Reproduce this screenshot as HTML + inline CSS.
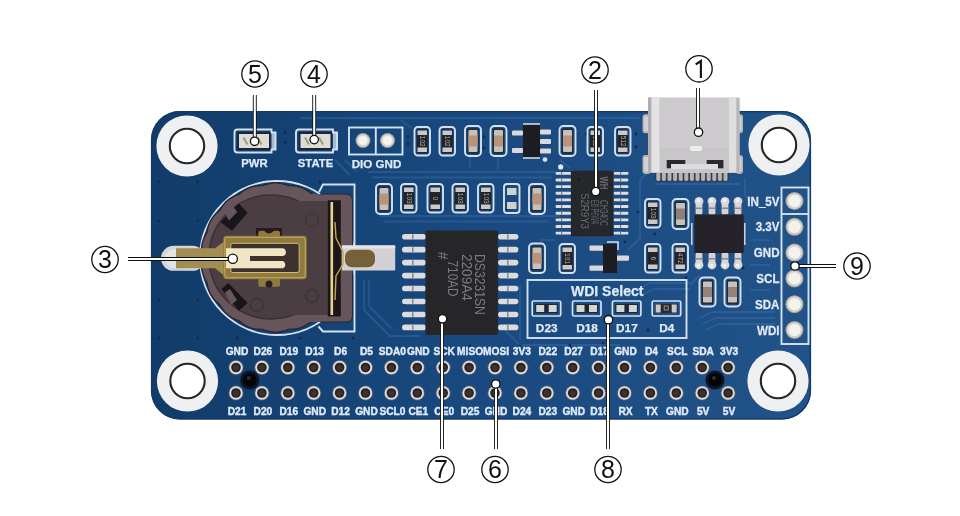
<!DOCTYPE html>
<html><head><meta charset="utf-8"><style>
html,body{margin:0;padding:0;background:#fff;width:960px;height:516px;overflow:hidden}
svg{display:block;font-family:"Liberation Sans",sans-serif;will-change:transform}
</style></head><body>
<svg width="960" height="516" viewBox="0 0 960 516">
<defs><linearGradient id="bg" x1="151" y1="0" x2="811" y2="0" gradientUnits="userSpaceOnUse"><stop offset="0" stop-color="#113c69"/><stop offset="0.45" stop-color="#18487e"/><stop offset="1" stop-color="#215288"/></linearGradient></defs>
<rect x="151" y="111" width="660" height="308.5" rx="29" fill="url(#bg)"/>
<rect x="151.6" y="111.6" width="658.8" height="307.3" rx="28.4" fill="none" stroke="#123a68" stroke-width="1.4"/>
<path d="M300 118 H640" fill="none" stroke="#5d95d8" stroke-opacity="0.22" stroke-width="1.8" stroke-linejoin="round"/>
<path d="M368 172 H556" fill="none" stroke="#5d95d8" stroke-opacity="0.22" stroke-width="1.8" stroke-linejoin="round"/>
<path d="M372 177.5 H552" fill="none" stroke="#5d95d8" stroke-opacity="0.22" stroke-width="1.8" stroke-linejoin="round"/>
<path d="M335 160 L350 175" fill="none" stroke="#5d95d8" stroke-opacity="0.22" stroke-width="1.8" stroke-linejoin="round"/>
<path d="M345 160 L357 172" fill="none" stroke="#5d95d8" stroke-opacity="0.22" stroke-width="1.8" stroke-linejoin="round"/>
<path d="M380 216 H560" fill="none" stroke="#5d95d8" stroke-opacity="0.22" stroke-width="1.8" stroke-linejoin="round"/>
<path d="M384 221.5 H548" fill="none" stroke="#5d95d8" stroke-opacity="0.22" stroke-width="1.8" stroke-linejoin="round"/>
<path d="M364 280 V310 L390 336 H420" fill="none" stroke="#5d95d8" stroke-opacity="0.22" stroke-width="1.8" stroke-linejoin="round"/>
<path d="M369 280 V306 L392 329" fill="none" stroke="#5d95d8" stroke-opacity="0.22" stroke-width="1.8" stroke-linejoin="round"/>
<path d="M520 285 L520 340" fill="none" stroke="#5d95d8" stroke-opacity="0.22" stroke-width="1.8" stroke-linejoin="round"/>
<path d="M505 330 L520 345 H620" fill="none" stroke="#5d95d8" stroke-opacity="0.22" stroke-width="1.8" stroke-linejoin="round"/>
<path d="M628 250 L640 238 V180 L648 172" fill="none" stroke="#5d95d8" stroke-opacity="0.22" stroke-width="1.8" stroke-linejoin="round"/>
<path d="M638 289 L650 283 H690" fill="none" stroke="#5d95d8" stroke-opacity="0.22" stroke-width="1.8" stroke-linejoin="round"/>
<path d="M642 295 L654 289 H690" fill="none" stroke="#5d95d8" stroke-opacity="0.22" stroke-width="1.8" stroke-linejoin="round"/>
<path d="M690 285 L700 275" fill="none" stroke="#5d95d8" stroke-opacity="0.22" stroke-width="1.8" stroke-linejoin="round"/>
<path d="M700 318 L712 312 H775" fill="none" stroke="#5d95d8" stroke-opacity="0.22" stroke-width="1.8" stroke-linejoin="round"/>
<path d="M703 324 L715 318 H775" fill="none" stroke="#5d95d8" stroke-opacity="0.22" stroke-width="1.8" stroke-linejoin="round"/>
<path d="M706 330 L718 324 H775" fill="none" stroke="#5d95d8" stroke-opacity="0.22" stroke-width="1.8" stroke-linejoin="round"/>
<path d="M745 178 V195 L755 205" fill="none" stroke="#5d95d8" stroke-opacity="0.22" stroke-width="1.8" stroke-linejoin="round"/>
<path d="M690 180 L700 170 H740" fill="none" stroke="#5d95d8" stroke-opacity="0.22" stroke-width="1.8" stroke-linejoin="round"/>
<path d="M655 184 H740" fill="none" stroke="#5d95d8" stroke-opacity="0.22" stroke-width="1.8" stroke-linejoin="round"/>
<path d="M540 240 H555" fill="none" stroke="#5d95d8" stroke-opacity="0.22" stroke-width="1.8" stroke-linejoin="round"/>
<path d="M750 240 H770" fill="none" stroke="#5d95d8" stroke-opacity="0.22" stroke-width="1.8" stroke-linejoin="round"/>
<path d="M750 265 H770" fill="none" stroke="#5d95d8" stroke-opacity="0.22" stroke-width="1.8" stroke-linejoin="round"/>
<path d="M750 290 H770" fill="none" stroke="#5d95d8" stroke-opacity="0.22" stroke-width="1.8" stroke-linejoin="round"/>
<path d="M470 150 V168" fill="none" stroke="#5d95d8" stroke-opacity="0.22" stroke-width="1.8" stroke-linejoin="round"/>
<path d="M498 158 V170" fill="none" stroke="#5d95d8" stroke-opacity="0.22" stroke-width="1.8" stroke-linejoin="round"/>
<path d="M400 120 L412 128" fill="none" stroke="#5d95d8" stroke-opacity="0.22" stroke-width="1.8" stroke-linejoin="round"/>
<path d="M560 160 L570 168" fill="none" stroke="#5d95d8" stroke-opacity="0.22" stroke-width="1.8" stroke-linejoin="round"/>
<circle cx="187" cy="146" r="30.6" fill="#eff0f2"/>
<circle cx="187" cy="146" r="17.2" fill="#ffffff" stroke="#262626" stroke-width="2.1"/>
<circle cx="779" cy="145" r="30.6" fill="#eff0f2"/>
<circle cx="779" cy="145" r="17.2" fill="#ffffff" stroke="#262626" stroke-width="2.1"/>
<circle cx="187.5" cy="381" r="30.6" fill="#eff0f2"/>
<circle cx="187.5" cy="381" r="17.2" fill="#ffffff" stroke="#262626" stroke-width="2.1"/>
<circle cx="778" cy="381" r="30.6" fill="#eff0f2"/>
<circle cx="778" cy="381" r="17.2" fill="#ffffff" stroke="#262626" stroke-width="2.1"/>
<circle cx="158.7" cy="181.6" r="1.4" fill="#0e2c55"/>
<circle cx="197.7" cy="181.6" r="1.4" fill="#0e2c55"/>
<circle cx="158.7" cy="220.8" r="1.4" fill="#0e2c55"/>
<circle cx="197.7" cy="220.8" r="1.4" fill="#0e2c55"/>
<circle cx="158.7" cy="260" r="1.4" fill="#0e2c55"/>
<circle cx="158.7" cy="300" r="1.4" fill="#0e2c55"/>
<circle cx="197.7" cy="300" r="1.4" fill="#0e2c55"/>
<circle cx="158.7" cy="338" r="1.4" fill="#0e2c55"/>
<circle cx="197.7" cy="338" r="1.4" fill="#0e2c55"/>
<circle cx="237" cy="338" r="1.4" fill="#0e2c55"/>
<circle cx="300" cy="338" r="1.4" fill="#0e2c55"/>
<circle cx="342" cy="316" r="1.4" fill="#0e2c55"/>
<circle cx="353" cy="338" r="1.4" fill="#0e2c55"/>
<circle cx="280" cy="182" r="1.4" fill="#0e2c55"/>
<circle cx="320" cy="182" r="1.4" fill="#0e2c55"/>
<circle cx="285" cy="132.5" r="1.4" fill="#0e2c55"/>
<circle cx="285" cy="142.3" r="1.4" fill="#0e2c55"/>
<circle cx="408" cy="137" r="1.4" fill="#0e2c55"/>
<circle cx="408" cy="144" r="1.4" fill="#0e2c55"/>
<circle cx="484" cy="137" r="1.4" fill="#0e2c55"/>
<circle cx="484" cy="148" r="1.4" fill="#0e2c55"/>
<circle cx="586" cy="134" r="1.4" fill="#0e2c55"/>
<circle cx="636" cy="134" r="1.4" fill="#0e2c55"/>
<circle cx="636" cy="147" r="1.4" fill="#0e2c55"/>
<circle cx="405" cy="304" r="1.4" fill="#0e2c55"/>
<circle cx="470" cy="346" r="1.4" fill="#0e2c55"/>
<circle cx="520" cy="346" r="1.4" fill="#0e2c55"/>
<circle cx="460" cy="210" r="1.4" fill="#0e2c55"/>
<circle cx="506" cy="210" r="1.4" fill="#0e2c55"/>
<circle cx="628" cy="180" r="1.4" fill="#0e2c55"/>
<circle cx="655" cy="234" r="1.4" fill="#0e2c55"/>
<circle cx="698" cy="235" r="1.4" fill="#0e2c55"/>
<circle cx="686" cy="278" r="1.4" fill="#0e2c55"/>
<circle cx="686" cy="292" r="1.4" fill="#0e2c55"/>
<circle cx="638" cy="212" r="1.4" fill="#0e2c55"/>
<circle cx="648" cy="330" r="1.4" fill="#0e2c55"/>
<circle cx="760" cy="300" r="1.4" fill="#0e2c55"/>
<circle cx="760" cy="330" r="1.4" fill="#0e2c55"/>
<circle cx="743" cy="268" r="1.4" fill="#0e2c55"/>
<circle cx="570" cy="345" r="1.4" fill="#0e2c55"/>
<circle cx="603" cy="343" r="1.4" fill="#0e2c55"/>
<circle cx="624" cy="232" r="1.4" fill="#0e2c55"/>
<circle cx="625" cy="242" r="1.4" fill="#0e2c55"/>
<circle cx="744" cy="235" r="1.4" fill="#0e2c55"/>
<path d="M237.5 129.5 H271.5 V132.5 H275.5 V149.5 H271.5 V152.5 H237.5 Q234.5 152.5 234.5 149.5 V132.5 Q234.5 129.5 237.5 129.5 Z" fill="none" stroke="#d3e2f2" stroke-width="1.9"/>
<rect x="271.5" y="132.5" width="4" height="17" fill="#d3e2f2" opacity="0.75"/>
<rect x="237.5" y="132.0" width="33" height="18" fill="#1c2530"/>
<rect x="239.0" y="134.0" width="30" height="14" fill="#dedcd4"/>
<path d="M243.5 137.5 l4 7 M257.5 137.5 l4 7" stroke="#7f8e78" stroke-width="2.2" opacity="0.75"/>
<path d="M299 129.5 H333 V132.5 H337 V149.5 H333 V152.5 H299 Q296 152.5 296 149.5 V132.5 Q296 129.5 299 129.5 Z" fill="none" stroke="#d3e2f2" stroke-width="1.9"/>
<rect x="333" y="132.5" width="4" height="17" fill="#d3e2f2" opacity="0.75"/>
<rect x="299" y="132.0" width="33" height="18" fill="#1c2530"/>
<rect x="300.5" y="134.0" width="30" height="14" fill="#dedcd4"/>
<path d="M305 137.5 l4 7 M319 137.5 l4 7" stroke="#7f8e78" stroke-width="2.2" opacity="0.75"/>
<text x="254.5" y="167.3" font-size="11.3" font-weight="bold" text-anchor="middle" fill="#dfeaf6" stroke="#dfeaf6" stroke-width="0.25">PWR</text>
<text x="315.5" y="167.3" font-size="11.3" font-weight="bold" text-anchor="middle" fill="#dfeaf6" stroke="#dfeaf6" stroke-width="0.25">STATE</text>
<rect x="349" y="127.5" width="53.5" height="27" fill="none" stroke="#d3e2f2" stroke-width="1.9"/>
<line x1="375.8" y1="127.5" x2="375.8" y2="154.5" stroke="#d3e2f2" stroke-width="1.9"/>
<circle cx="363" cy="140.5" r="7.4" fill="#a9a49d"/>
<circle cx="363" cy="140.5" r="6.4" fill="#d9d5cf"/>
<circle cx="363" cy="140.5" r="4.6" fill="#f6f4f0"/>
<circle cx="387.5" cy="140.5" r="7.4" fill="#a9a49d"/>
<circle cx="387.5" cy="140.5" r="6.4" fill="#d9d5cf"/>
<circle cx="387.5" cy="140.5" r="4.6" fill="#f6f4f0"/>
<text x="376.5" y="167.5" font-size="11.6" font-weight="bold" text-anchor="middle" fill="#dfeaf6" stroke="#dfeaf6" stroke-width="0.25">DIO GND</text>
<rect x="414.5" y="127" width="15.5" height="28.5" rx="3.5" fill="none" stroke="#d3e2f2" stroke-width="1.9"/>
<rect x="416.8" y="129.3" width="10.9" height="23.9" rx="1" fill="#232328"/>
<rect x="417.5" y="130.5" width="9.5" height="4.5" fill="#c9c9c9"/>
<rect x="417.5" y="147.5" width="9.5" height="4.5" fill="#c9c9c9"/>
<text x="0" y="0" transform="translate(420.25 141.25) rotate(90)" font-size="6.5" text-anchor="middle" fill="#b4b4b4">102</text>
<rect x="439.5" y="127" width="15.5" height="28.5" rx="3.5" fill="none" stroke="#d3e2f2" stroke-width="1.9"/>
<rect x="441.8" y="129.3" width="10.9" height="23.9" rx="1" fill="#232328"/>
<rect x="442.5" y="130.5" width="9.5" height="4.5" fill="#c9c9c9"/>
<rect x="442.5" y="147.5" width="9.5" height="4.5" fill="#c9c9c9"/>
<text x="0" y="0" transform="translate(445.25 141.25) rotate(90)" font-size="6.5" text-anchor="middle" fill="#b4b4b4">102</text>
<rect x="465" y="126" width="16" height="30" rx="4" fill="none" stroke="#d3e2f2" stroke-width="1.9"/>
<rect x="467.3" y="128.3" width="11.4" height="25.4" rx="1.5" fill="#262a34"/>
<rect x="468.5" y="130" width="9" height="22" rx="1" fill="#c4c2bd"/>
<rect x="468.5" y="135.5" width="9" height="11" fill="#b9937a"/>
<rect x="490.5" y="126" width="16" height="30" rx="4" fill="none" stroke="#d3e2f2" stroke-width="1.9"/>
<rect x="492.8" y="128.3" width="11.4" height="25.4" rx="1.5" fill="#262a34"/>
<rect x="494.0" y="130" width="9" height="22" rx="1" fill="#c4c2bd"/>
<rect x="494.0" y="135.5" width="9" height="11" fill="#b9937a"/>
<rect x="559.5" y="126" width="16" height="30" rx="4" fill="none" stroke="#d3e2f2" stroke-width="1.9"/>
<rect x="561.8" y="128.3" width="11.4" height="25.4" rx="1.5" fill="#262a34"/>
<rect x="563.0" y="130" width="9" height="22" rx="1" fill="#c4c2bd"/>
<rect x="563.0" y="135.5" width="9" height="11" fill="#b9937a"/>
<rect x="587.5" y="127" width="15.5" height="28.5" rx="3.5" fill="none" stroke="#d3e2f2" stroke-width="1.9"/>
<rect x="589.8" y="129.3" width="10.9" height="23.9" rx="1" fill="#232328"/>
<rect x="590.5" y="130.5" width="9.5" height="4.5" fill="#c9c9c9"/>
<rect x="590.5" y="147.5" width="9.5" height="4.5" fill="#c9c9c9"/>
<text x="0" y="0" transform="translate(593.25 141.25) rotate(90)" font-size="6.5" text-anchor="middle" fill="#b4b4b4">512</text>
<rect x="615" y="127" width="15.5" height="28.5" rx="3.5" fill="none" stroke="#d3e2f2" stroke-width="1.9"/>
<rect x="617.3" y="129.3" width="10.9" height="23.9" rx="1" fill="#232328"/>
<rect x="618" y="130.5" width="9.5" height="4.5" fill="#c9c9c9"/>
<rect x="618" y="147.5" width="9.5" height="4.5" fill="#c9c9c9"/>
<text x="0" y="0" transform="translate(620.75 141.25) rotate(90)" font-size="6.5" text-anchor="middle" fill="#b4b4b4">512</text>
<rect x="376" y="184" width="16" height="30" rx="4" fill="none" stroke="#d3e2f2" stroke-width="1.9"/>
<rect x="378.3" y="186.3" width="11.4" height="25.4" rx="1.5" fill="#262a34"/>
<rect x="379.5" y="188" width="9" height="22" rx="1" fill="#c4c2bd"/>
<rect x="379.5" y="193.5" width="9" height="11" fill="#b9937a"/>
<rect x="401" y="184" width="15.5" height="28.5" rx="3.5" fill="none" stroke="#d3e2f2" stroke-width="1.9"/>
<rect x="403.3" y="186.3" width="10.9" height="23.9" rx="1" fill="#232328"/>
<rect x="404" y="187.5" width="9.5" height="4.5" fill="#c9c9c9"/>
<rect x="404" y="204.5" width="9.5" height="4.5" fill="#c9c9c9"/>
<text x="0" y="0" transform="translate(406.75 198.25) rotate(90)" font-size="6.5" text-anchor="middle" fill="#b4b4b4">103</text>
<rect x="427.5" y="184" width="15.5" height="28.5" rx="3.5" fill="none" stroke="#d3e2f2" stroke-width="1.9"/>
<rect x="429.8" y="186.3" width="10.9" height="23.9" rx="1" fill="#232328"/>
<rect x="430.5" y="187.5" width="9.5" height="4.5" fill="#c9c9c9"/>
<rect x="430.5" y="204.5" width="9.5" height="4.5" fill="#c9c9c9"/>
<text x="0" y="0" transform="translate(433.25 198.25) rotate(90)" font-size="6.5" text-anchor="middle" fill="#b4b4b4">0</text>
<rect x="452.5" y="184" width="15.5" height="28.5" rx="3.5" fill="none" stroke="#d3e2f2" stroke-width="1.9"/>
<rect x="454.8" y="186.3" width="10.9" height="23.9" rx="1" fill="#232328"/>
<rect x="455.5" y="187.5" width="9.5" height="4.5" fill="#c9c9c9"/>
<rect x="455.5" y="204.5" width="9.5" height="4.5" fill="#c9c9c9"/>
<text x="0" y="0" transform="translate(458.25 198.25) rotate(90)" font-size="6.5" text-anchor="middle" fill="#b4b4b4">103</text>
<rect x="478" y="184" width="15.5" height="28.5" rx="3.5" fill="none" stroke="#d3e2f2" stroke-width="1.9"/>
<rect x="480.3" y="186.3" width="10.9" height="23.9" rx="1" fill="#232328"/>
<rect x="481" y="187.5" width="9.5" height="4.5" fill="#c9c9c9"/>
<rect x="481" y="204.5" width="9.5" height="4.5" fill="#c9c9c9"/>
<text x="0" y="0" transform="translate(483.75 198.25) rotate(90)" font-size="6.5" text-anchor="middle" fill="#b4b4b4">103</text>
<rect x="504" y="184" width="15.5" height="29" rx="3" fill="none" stroke="#d3e2f2" stroke-width="1.9"/>
<rect x="507" y="188" width="9.5" height="7" fill="#d2d2cc"/>
<rect x="507" y="202" width="9.5" height="7" fill="#d2d2cc"/>
<rect x="529" y="184" width="16" height="30" rx="4" fill="none" stroke="#d3e2f2" stroke-width="1.9"/>
<rect x="531.3" y="186.3" width="11.4" height="25.4" rx="1.5" fill="#262a34"/>
<rect x="532.5" y="188" width="9" height="22" rx="1" fill="#c4c2bd"/>
<rect x="532.5" y="193.5" width="9" height="11" fill="#b9937a"/>
<rect x="645" y="199" width="15.5" height="28.5" rx="3.5" fill="none" stroke="#d3e2f2" stroke-width="1.9"/>
<rect x="647.3" y="201.3" width="10.9" height="23.9" rx="1" fill="#232328"/>
<rect x="648" y="202.5" width="9.5" height="4.5" fill="#c9c9c9"/>
<rect x="648" y="219.5" width="9.5" height="4.5" fill="#c9c9c9"/>
<text x="0" y="0" transform="translate(650.75 213.25) rotate(90)" font-size="6.5" text-anchor="middle" fill="#b4b4b4">103</text>
<rect x="672.5" y="199" width="16" height="30" rx="4" fill="none" stroke="#d3e2f2" stroke-width="1.9"/>
<rect x="674.8" y="201.3" width="11.4" height="25.4" rx="1.5" fill="#262a34"/>
<rect x="676.0" y="203" width="9" height="22" rx="1" fill="#c4c2bd"/>
<rect x="676.0" y="208.5" width="9" height="11" fill="#8f7f78"/>
<rect x="645" y="244" width="15.5" height="28.5" rx="3.5" fill="none" stroke="#d3e2f2" stroke-width="1.9"/>
<rect x="647.3" y="246.3" width="10.9" height="23.9" rx="1" fill="#232328"/>
<rect x="648" y="247.5" width="9.5" height="4.5" fill="#c9c9c9"/>
<rect x="648" y="264.5" width="9.5" height="4.5" fill="#c9c9c9"/>
<text x="0" y="0" transform="translate(650.75 258.25) rotate(90)" font-size="6.5" text-anchor="middle" fill="#b4b4b4">6</text>
<rect x="672.5" y="244" width="15.5" height="28.5" rx="3.5" fill="none" stroke="#d3e2f2" stroke-width="1.9"/>
<rect x="674.8" y="246.3" width="10.9" height="23.9" rx="1" fill="#232328"/>
<rect x="675.5" y="247.5" width="9.5" height="4.5" fill="#c9c9c9"/>
<rect x="675.5" y="264.5" width="9.5" height="4.5" fill="#c9c9c9"/>
<text x="0" y="0" transform="translate(678.25 258.25) rotate(90)" font-size="6.5" text-anchor="middle" fill="#b4b4b4">472</text>
<rect x="699.5" y="277.5" width="16" height="29" rx="4" fill="none" stroke="#d3e2f2" stroke-width="1.9"/>
<rect x="701.8" y="279.8" width="11.4" height="24.4" rx="1.5" fill="#262a34"/>
<rect x="703.0" y="281.5" width="9" height="21" rx="1" fill="#c4c2bd"/>
<rect x="703.0" y="287.0" width="9" height="10" fill="#94827a"/>
<rect x="724.5" y="277.5" width="16" height="29" rx="4" fill="none" stroke="#d3e2f2" stroke-width="1.9"/>
<rect x="726.8" y="279.8" width="11.4" height="24.4" rx="1.5" fill="#262a34"/>
<rect x="728.0" y="281.5" width="9" height="21" rx="1" fill="#c4c2bd"/>
<rect x="728.0" y="287.0" width="9" height="10" fill="#94827a"/>
<rect x="529" y="243.5" width="16" height="29.5" rx="4" fill="none" stroke="#d3e2f2" stroke-width="1.9"/>
<rect x="531.3" y="245.8" width="11.4" height="24.9" rx="1.5" fill="#262a34"/>
<rect x="532.5" y="247.5" width="9" height="21.5" rx="1" fill="#c4c2bd"/>
<rect x="532.5" y="253.0" width="9" height="10.5" fill="#b9937a"/>
<rect x="559.5" y="244" width="15.5" height="29" rx="3.5" fill="none" stroke="#d3e2f2" stroke-width="1.9"/>
<rect x="561.8" y="246.3" width="10.9" height="24.4" rx="1" fill="#232328"/>
<rect x="562.5" y="247.5" width="9.5" height="4.5" fill="#c9c9c9"/>
<rect x="562.5" y="265" width="9.5" height="4.5" fill="#c9c9c9"/>
<text x="0" y="0" transform="translate(565.25 258.5) rotate(90)" font-size="6.5" text-anchor="middle" fill="#b4b4b4">101</text>
<rect x="512" y="130.5" width="11" height="5" rx="1" fill="#d9d9db"/>
<rect x="512" y="148" width="11" height="5" rx="1" fill="#d9d9db"/>
<rect x="540" y="129.5" width="11" height="5" rx="1" fill="#d9d9db"/>
<rect x="540" y="139" width="11" height="5" rx="1" fill="#d9d9db"/>
<rect x="540" y="148.5" width="11" height="5" rx="1" fill="#d9d9db"/>
<rect x="523" y="124.5" width="17" height="33" fill="#1b1d22"/>
<path d="M523 124 H540 M523 158 H540" stroke="#d3e2f2" stroke-width="1.5"/>
<rect x="589.5" y="245.5" width="14" height="5.2" rx="1" fill="#d9d9db"/>
<rect x="589.5" y="265.5" width="14" height="5.2" rx="1" fill="#d9d9db"/>
<rect x="616" y="255.5" width="13" height="5.2" rx="1" fill="#d9d9db"/>
<rect x="603" y="244" width="14" height="29" fill="#1b1d22"/>
<path d="M607 242 H618 V250" fill="none" stroke="#d3e2f2" stroke-width="1.5"/>
<rect x="555.6" y="171.9" width="15.5" height="2.9" rx="1" fill="#dedede"/>
<rect x="613.8" y="171.9" width="14.6" height="2.9" rx="1" fill="#dedede"/>
<rect x="561" y="171.9" width="1.2" height="2.9" fill="#7a7a80"/>
<rect x="620" y="171.9" width="1.2" height="2.9" fill="#7a7a80"/>
<rect x="555.6" y="178.54" width="15.5" height="2.9" rx="1" fill="#dedede"/>
<rect x="613.8" y="178.54" width="14.6" height="2.9" rx="1" fill="#dedede"/>
<rect x="561" y="178.54" width="1.2" height="2.9" fill="#7a7a80"/>
<rect x="620" y="178.54" width="1.2" height="2.9" fill="#7a7a80"/>
<rect x="555.6" y="185.18" width="15.5" height="2.9" rx="1" fill="#dedede"/>
<rect x="613.8" y="185.18" width="14.6" height="2.9" rx="1" fill="#dedede"/>
<rect x="561" y="185.18" width="1.2" height="2.9" fill="#7a7a80"/>
<rect x="620" y="185.18" width="1.2" height="2.9" fill="#7a7a80"/>
<rect x="555.6" y="191.82" width="15.5" height="2.9" rx="1" fill="#dedede"/>
<rect x="613.8" y="191.82" width="14.6" height="2.9" rx="1" fill="#dedede"/>
<rect x="561" y="191.82" width="1.2" height="2.9" fill="#7a7a80"/>
<rect x="620" y="191.82" width="1.2" height="2.9" fill="#7a7a80"/>
<rect x="555.6" y="198.46" width="15.5" height="2.9" rx="1" fill="#dedede"/>
<rect x="613.8" y="198.46" width="14.6" height="2.9" rx="1" fill="#dedede"/>
<rect x="561" y="198.46" width="1.2" height="2.9" fill="#7a7a80"/>
<rect x="620" y="198.46" width="1.2" height="2.9" fill="#7a7a80"/>
<rect x="555.6" y="205.1" width="15.5" height="2.9" rx="1" fill="#dedede"/>
<rect x="613.8" y="205.1" width="14.6" height="2.9" rx="1" fill="#dedede"/>
<rect x="561" y="205.1" width="1.2" height="2.9" fill="#7a7a80"/>
<rect x="620" y="205.1" width="1.2" height="2.9" fill="#7a7a80"/>
<rect x="555.6" y="211.74" width="15.5" height="2.9" rx="1" fill="#dedede"/>
<rect x="613.8" y="211.74" width="14.6" height="2.9" rx="1" fill="#dedede"/>
<rect x="561" y="211.74" width="1.2" height="2.9" fill="#7a7a80"/>
<rect x="620" y="211.74" width="1.2" height="2.9" fill="#7a7a80"/>
<rect x="555.6" y="218.38" width="15.5" height="2.9" rx="1" fill="#dedede"/>
<rect x="613.8" y="218.38" width="14.6" height="2.9" rx="1" fill="#dedede"/>
<rect x="561" y="218.38" width="1.2" height="2.9" fill="#7a7a80"/>
<rect x="620" y="218.38" width="1.2" height="2.9" fill="#7a7a80"/>
<rect x="555.6" y="225.02" width="15.5" height="2.9" rx="1" fill="#dedede"/>
<rect x="613.8" y="225.02" width="14.6" height="2.9" rx="1" fill="#dedede"/>
<rect x="561" y="225.02" width="1.2" height="2.9" fill="#7a7a80"/>
<rect x="620" y="225.02" width="1.2" height="2.9" fill="#7a7a80"/>
<rect x="555.6" y="231.66" width="15.5" height="2.9" rx="1" fill="#dedede"/>
<rect x="613.8" y="231.66" width="14.6" height="2.9" rx="1" fill="#dedede"/>
<rect x="561" y="231.66" width="1.2" height="2.9" fill="#7a7a80"/>
<rect x="620" y="231.66" width="1.2" height="2.9" fill="#7a7a80"/>
<rect x="570.9" y="170.8" width="42.2" height="65.5" rx="1.5" fill="#26272b"/>
<circle cx="579" cy="179.5" r="3.2" fill="#1f2023" stroke="#333438" stroke-width="0.8"/>
<circle cx="560.7" cy="166.9" r="2.6" fill="#dfeaf5"/>
<circle cx="545" cy="159.6" r="2.4" fill="#cfe0f0"/>
<text x="0" y="0" transform="translate(600 213) rotate(90)" font-size="10" text-anchor="middle" fill="#6a6b72" textLength="26" lengthAdjust="spacingAndGlyphs">CH340C</text>
<text x="0" y="0" transform="translate(590.5 212) rotate(90)" font-size="10" text-anchor="middle" fill="#6a6b72" textLength="24" lengthAdjust="spacingAndGlyphs">E8 P6W4</text>
<text x="0" y="0" transform="translate(580.5 211) rotate(90)" font-size="10" text-anchor="middle" fill="#6a6b72" textLength="36" lengthAdjust="spacingAndGlyphs">S2R9Y3</text>
<text x="0" y="0" transform="translate(600 183) rotate(90)" font-size="10" font-weight="bold" text-anchor="middle" fill="#6a6b72" textLength="13" lengthAdjust="spacingAndGlyphs">WH</text>
<rect x="695.6" y="203" width="6.8" height="11.5" rx="1.5" fill="#d4d4d6"/>
<circle cx="699.0" cy="201.3" r="4.4" fill="#d8d8da"/>
<circle cx="698.5" cy="200.5" r="2" fill="#f0f0f0"/>
<rect x="696.0" y="207.5" width="6" height="1.5" fill="#8a8a8c"/>
<rect x="695.6" y="252.5" width="6.8" height="11.5" rx="1.5" fill="#d4d4d6"/>
<circle cx="699.0" cy="265" r="4.4" fill="#d8d8da"/>
<circle cx="698.5" cy="265.5" r="2" fill="#f0f0f0"/>
<rect x="696.0" y="258" width="6" height="1.5" fill="#8a8a8c"/>
<rect x="708.6" y="203" width="6.8" height="11.5" rx="1.5" fill="#d4d4d6"/>
<circle cx="712.0" cy="201.3" r="4.4" fill="#d8d8da"/>
<circle cx="711.5" cy="200.5" r="2" fill="#f0f0f0"/>
<rect x="709.0" y="207.5" width="6" height="1.5" fill="#8a8a8c"/>
<rect x="708.6" y="252.5" width="6.8" height="11.5" rx="1.5" fill="#d4d4d6"/>
<circle cx="712.0" cy="265" r="4.4" fill="#d8d8da"/>
<circle cx="711.5" cy="265.5" r="2" fill="#f0f0f0"/>
<rect x="709.0" y="258" width="6" height="1.5" fill="#8a8a8c"/>
<rect x="721.6" y="203" width="6.8" height="11.5" rx="1.5" fill="#d4d4d6"/>
<circle cx="725.0" cy="201.3" r="4.4" fill="#d8d8da"/>
<circle cx="724.5" cy="200.5" r="2" fill="#f0f0f0"/>
<rect x="722.0" y="207.5" width="6" height="1.5" fill="#8a8a8c"/>
<rect x="721.6" y="252.5" width="6.8" height="11.5" rx="1.5" fill="#d4d4d6"/>
<circle cx="725.0" cy="265" r="4.4" fill="#d8d8da"/>
<circle cx="724.5" cy="265.5" r="2" fill="#f0f0f0"/>
<rect x="722.0" y="258" width="6" height="1.5" fill="#8a8a8c"/>
<rect x="734.6" y="203" width="6.8" height="11.5" rx="1.5" fill="#d4d4d6"/>
<circle cx="738.0" cy="201.3" r="4.4" fill="#d8d8da"/>
<circle cx="737.5" cy="200.5" r="2" fill="#f0f0f0"/>
<rect x="735.0" y="207.5" width="6" height="1.5" fill="#8a8a8c"/>
<rect x="734.6" y="252.5" width="6.8" height="11.5" rx="1.5" fill="#d4d4d6"/>
<circle cx="738.0" cy="265" r="4.4" fill="#d8d8da"/>
<circle cx="737.5" cy="265.5" r="2" fill="#f0f0f0"/>
<rect x="735.0" y="258" width="6" height="1.5" fill="#8a8a8c"/>
<rect x="694.3" y="214.5" width="49.5" height="38.5" rx="1.5" fill="#252329"/>
<path d="M691.8 223 V245 M744.8 223 V245" stroke="#d3e2f2" stroke-width="1.4"/>
<rect x="402" y="233.89999999999998" width="24" height="5.6" rx="2.8" fill="#dcdcde"/>
<rect x="498" y="233.89999999999998" width="20.4" height="5.6" rx="2.8" fill="#dcdcde"/>
<rect x="412" y="234.29999999999998" width="1.6" height="4.8" fill="#8d8d90"/>
<rect x="507" y="234.29999999999998" width="1.6" height="4.8" fill="#8d8d90"/>
<rect x="402" y="246.85999999999999" width="24" height="5.6" rx="2.8" fill="#dcdcde"/>
<rect x="498" y="246.85999999999999" width="20.4" height="5.6" rx="2.8" fill="#dcdcde"/>
<rect x="412" y="247.26" width="1.6" height="4.8" fill="#8d8d90"/>
<rect x="507" y="247.26" width="1.6" height="4.8" fill="#8d8d90"/>
<rect x="402" y="259.82" width="24" height="5.6" rx="2.8" fill="#dcdcde"/>
<rect x="498" y="259.82" width="20.4" height="5.6" rx="2.8" fill="#dcdcde"/>
<rect x="412" y="260.22" width="1.6" height="4.8" fill="#8d8d90"/>
<rect x="507" y="260.22" width="1.6" height="4.8" fill="#8d8d90"/>
<rect x="402" y="272.78" width="24" height="5.6" rx="2.8" fill="#dcdcde"/>
<rect x="498" y="272.78" width="20.4" height="5.6" rx="2.8" fill="#dcdcde"/>
<rect x="412" y="273.18" width="1.6" height="4.8" fill="#8d8d90"/>
<rect x="507" y="273.18" width="1.6" height="4.8" fill="#8d8d90"/>
<rect x="402" y="285.73999999999995" width="24" height="5.6" rx="2.8" fill="#dcdcde"/>
<rect x="498" y="285.73999999999995" width="20.4" height="5.6" rx="2.8" fill="#dcdcde"/>
<rect x="412" y="286.14" width="1.6" height="4.8" fill="#8d8d90"/>
<rect x="507" y="286.14" width="1.6" height="4.8" fill="#8d8d90"/>
<rect x="402" y="298.7" width="24" height="5.6" rx="2.8" fill="#dcdcde"/>
<rect x="498" y="298.7" width="20.4" height="5.6" rx="2.8" fill="#dcdcde"/>
<rect x="412" y="299.1" width="1.6" height="4.8" fill="#8d8d90"/>
<rect x="507" y="299.1" width="1.6" height="4.8" fill="#8d8d90"/>
<rect x="402" y="311.65999999999997" width="24" height="5.6" rx="2.8" fill="#dcdcde"/>
<rect x="498" y="311.65999999999997" width="20.4" height="5.6" rx="2.8" fill="#dcdcde"/>
<rect x="412" y="312.06" width="1.6" height="4.8" fill="#8d8d90"/>
<rect x="507" y="312.06" width="1.6" height="4.8" fill="#8d8d90"/>
<rect x="402" y="324.61999999999995" width="24" height="5.6" rx="2.8" fill="#dcdcde"/>
<rect x="498" y="324.61999999999995" width="20.4" height="5.6" rx="2.8" fill="#dcdcde"/>
<rect x="412" y="325.02" width="1.6" height="4.8" fill="#8d8d90"/>
<rect x="507" y="325.02" width="1.6" height="4.8" fill="#8d8d90"/>
<rect x="425.5" y="230.5" width="72.3" height="104.6" rx="1.5" fill="#262629"/>
<text x="0" y="0" transform="translate(475.3 284.4) rotate(90)" font-size="14.2" text-anchor="middle" fill="#7b7b81" textLength="60.8" lengthAdjust="spacingAndGlyphs">DS3231SN</text>
<text x="0" y="0" transform="translate(462.3 277.4) rotate(90)" font-size="14.2" text-anchor="middle" fill="#7b7b81" textLength="46.7" lengthAdjust="spacingAndGlyphs">2209A4</text>
<text x="0" y="0" transform="translate(448.4 278.5) rotate(90)" font-size="14.2" text-anchor="middle" fill="#7b7b81" textLength="35.8" lengthAdjust="spacingAndGlyphs">710AD</text>
<text x="0" y="0" transform="translate(438.4 255.6) rotate(90)" font-size="14" text-anchor="middle" fill="#7b7b81">#</text>
<rect x="642.5" y="114.3" width="8" height="19" rx="3" fill="#b5b5b7"/>
<rect x="644.0" y="116.3" width="5" height="15" rx="2" fill="#d2d2d4"/>
<rect x="642.5" y="155" width="8" height="19" rx="3" fill="#b5b5b7"/>
<rect x="644.0" y="157" width="5" height="15" rx="2" fill="#d2d2d4"/>
<rect x="736" y="114.3" width="7" height="19" rx="3" fill="#b5b5b7"/>
<rect x="737.5" y="116.3" width="4" height="15" rx="2" fill="#d2d2d4"/>
<rect x="736" y="155" width="7" height="19" rx="3" fill="#b5b5b7"/>
<rect x="737.5" y="157" width="4" height="15" rx="2" fill="#d2d2d4"/>
<rect x="655" y="171" width="74" height="10.5" rx="2" fill="#3a3a40"/>
<rect x="656.3" y="172" width="4" height="9" rx="1.8" fill="#b4b4b8"/>
<rect x="661.9" y="172" width="4" height="9" rx="1.8" fill="#b4b4b8"/>
<rect x="667.5" y="172" width="4" height="9" rx="1.8" fill="#b4b4b8"/>
<rect x="673.0999999999999" y="172" width="4" height="9" rx="1.8" fill="#b4b4b8"/>
<rect x="678.6999999999999" y="172" width="4" height="9" rx="1.8" fill="#b4b4b8"/>
<rect x="684.3" y="172" width="4" height="9" rx="1.8" fill="#b4b4b8"/>
<rect x="689.9" y="172" width="4" height="9" rx="1.8" fill="#b4b4b8"/>
<rect x="695.5" y="172" width="4" height="9" rx="1.8" fill="#b4b4b8"/>
<rect x="701.0999999999999" y="172" width="4" height="9" rx="1.8" fill="#b4b4b8"/>
<rect x="706.6999999999999" y="172" width="4" height="9" rx="1.8" fill="#b4b4b8"/>
<rect x="712.3" y="172" width="4" height="9" rx="1.8" fill="#b4b4b8"/>
<rect x="717.9" y="172" width="4" height="9" rx="1.8" fill="#b4b4b8"/>
<rect x="723.5" y="172" width="4" height="9" rx="1.8" fill="#b4b4b8"/>
<rect x="648" y="97.5" width="91.5" height="75.5" rx="1.5" fill="#c8c6c8"/>
<rect x="648" y="97.5" width="3.5" height="75.5" fill="#b0aeb0"/>
<rect x="651.5" y="98" width="8" height="74" fill="#e4e3e4"/>
<rect x="729" y="98" width="7.5" height="74" fill="#e0dfe0"/>
<rect x="736.5" y="98" width="3" height="74" fill="#b8b6b8"/>
<rect x="659.5" y="98" width="69.5" height="50" fill="#cdcbcd"/>
<rect x="666.7" y="160" width="18.6" height="8.3" fill="#2a2a2c"/>
<rect x="706.7" y="160" width="16.7" height="8.3" fill="#2a2a2c"/>
<rect x="671" y="164" width="47" height="5" fill="#dcdcdc"/>
<rect x="690" y="146" width="12" height="5" rx="1.5" fill="#ededed"/>
<circle cx="277" cy="258" r="77" fill="none" stroke="#d3e2f2" stroke-width="1.9"/>
<path d="M319 192 L323 184.5 H354.5 V331.5 H323 L318.5 326.5" fill="none" stroke="#d3e2f2" stroke-width="1.9"/>
<rect x="161" y="245.8" width="44" height="25" rx="12.5" fill="#d6d6d8"/>
<rect x="165" y="249" width="40" height="19" rx="9.5" fill="#e4e4e6"/>
<polygon points="348.5,257.5 348.7,258.8 348.9,260.1 349.1,261.4 349.3,262.7 349.3,264.0 349.4,265.3 349.4,266.6 349.3,267.9 349.2,269.2 349.0,270.5 348.7,271.7 348.4,273.0 348.0,274.2 347.6,275.5 347.1,276.7 346.6,277.9 346.0,279.1 345.4,280.2 344.8,281.3 344.1,282.5 343.9,283.8 343.6,285.0 343.4,286.3 343.0,287.6 342.7,288.8 342.3,290.1 341.8,291.3 341.3,292.5 340.7,293.7 340.1,294.8 339.4,295.9 338.7,297.0 337.9,298.0 337.1,299.0 336.2,300.0 335.3,301.0 334.4,301.9 333.4,302.7 332.4,303.6 331.4,304.4 330.8,305.6 330.1,306.7 329.4,307.8 328.7,308.9 327.9,309.9 327.1,310.9 326.3,311.9 325.4,312.9 324.4,313.8 323.5,314.6 322.4,315.5 321.4,316.2 320.3,316.9 319.2,317.6 318.0,318.2 316.8,318.8 315.7,319.3 314.4,319.8 313.2,320.3 312.0,320.7 311.0,321.6 310.0,322.4 309.0,323.2 307.9,324.0 306.8,324.7 305.7,325.4 304.6,326.0 303.4,326.6 302.2,327.1 301.0,327.6 299.8,328.0 298.5,328.4 297.3,328.7 296.0,328.9 294.7,329.1 293.4,329.2 292.1,329.3 290.8,329.4 289.5,329.4 288.2,329.4 287.0,329.8 285.7,330.3 284.5,330.7 283.2,331.0 282.0,331.3 280.7,331.6 279.4,331.8 278.1,332.0 276.8,332.1 275.5,332.1 274.2,332.1 272.9,332.0 271.6,331.8 270.3,331.6 269.0,331.3 267.8,331.0 266.5,330.7 265.3,330.3 264.0,329.8 262.8,329.4 261.5,329.4 260.2,329.4 258.9,329.3 257.6,329.2 256.3,329.1 255.0,328.9 253.7,328.7 252.5,328.4 251.2,328.0 250.0,327.6 248.8,327.1 247.6,326.6 246.4,326.0 245.3,325.4 244.2,324.7 243.1,324.0 242.0,323.2 241.0,322.4 240.0,321.6 239.0,320.7 237.8,320.3 236.6,319.8 235.3,319.3 234.2,318.8 233.0,318.2 231.8,317.6 230.7,316.9 229.6,316.2 228.6,315.5 227.5,314.6 226.6,313.8 225.6,312.9 224.7,311.9 223.9,310.9 223.1,309.9 222.3,308.9 221.6,307.8 220.9,306.7 220.2,305.6 219.6,304.4 218.6,303.6 217.6,302.7 216.6,301.9 215.7,301.0 214.8,300.0 213.9,299.0 213.1,298.0 212.3,297.0 211.6,295.9 210.9,294.8 210.3,293.7 209.7,292.5 209.2,291.3 208.7,290.1 208.3,288.8 208.0,287.6 207.6,286.3 207.4,285.0 207.1,283.8 206.9,282.5 206.2,281.3 205.6,280.2 205.0,279.1 204.4,277.9 203.9,276.7 203.4,275.5 203.0,274.2 202.6,273.0 202.3,271.7 202.0,270.5 201.8,269.2 201.7,267.9 201.6,266.6 201.6,265.3 201.7,264.0 201.7,262.7 201.9,261.4 202.1,260.1 202.3,258.8 202.5,257.5 202.3,256.2 202.1,254.9 201.9,253.6 201.7,252.3 201.7,251.0 201.6,249.7 201.6,248.4 201.7,247.1 201.8,245.8 202.0,244.5 202.3,243.3 202.6,242.0 203.0,240.8 203.4,239.5 203.9,238.3 204.4,237.1 205.0,235.9 205.6,234.8 206.2,233.7 206.9,232.5 207.1,231.2 207.4,230.0 207.6,228.7 208.0,227.4 208.3,226.2 208.7,224.9 209.2,223.7 209.7,222.5 210.3,221.3 210.9,220.2 211.6,219.1 212.3,218.0 213.1,217.0 213.9,216.0 214.8,215.0 215.7,214.0 216.6,213.1 217.6,212.3 218.6,211.4 219.6,210.6 220.2,209.4 220.9,208.3 221.6,207.2 222.3,206.1 223.1,205.1 223.9,204.1 224.7,203.1 225.6,202.1 226.6,201.2 227.5,200.4 228.6,199.5 229.6,198.8 230.7,198.1 231.8,197.4 233.0,196.8 234.2,196.2 235.3,195.7 236.6,195.2 237.8,194.7 239.0,194.3 240.0,193.4 241.0,192.6 242.0,191.8 243.1,191.0 244.2,190.3 245.3,189.6 246.4,189.0 247.6,188.4 248.8,187.9 250.0,187.4 251.2,187.0 252.5,186.6 253.7,186.3 255.0,186.1 256.3,185.9 257.6,185.8 258.9,185.7 260.2,185.6 261.5,185.6 262.8,185.6 264.0,185.2 265.3,184.7 266.5,184.3 267.8,184.0 269.0,183.7 270.3,183.4 271.6,183.2 272.9,183.0 274.2,182.9 275.5,182.9 276.8,182.9 278.1,183.0 279.4,183.2 280.7,183.4 282.0,183.7 283.2,184.0 284.5,184.3 285.7,184.7 287.0,185.2 288.2,185.6 289.5,185.6 290.8,185.6 292.1,185.7 293.4,185.8 294.7,185.9 296.0,186.1 297.3,186.3 298.5,186.6 299.8,187.0 301.0,187.4 302.2,187.9 303.4,188.4 304.6,189.0 305.7,189.6 306.8,190.3 307.9,191.0 309.0,191.8 310.0,192.6 311.0,193.4 312.0,194.3 313.2,194.7 314.4,195.2 315.7,195.7 316.8,196.2 318.0,196.8 319.2,197.4 320.3,198.1 321.4,198.8 322.4,199.5 323.5,200.4 324.4,201.2 325.4,202.1 326.3,203.1 327.1,204.1 327.9,205.1 328.7,206.1 329.4,207.2 330.1,208.3 330.8,209.4 331.4,210.6 332.4,211.4 333.4,212.3 334.4,213.1 335.3,214.0 336.2,215.0 337.1,216.0 337.9,217.0 338.7,218.0 339.4,219.1 340.1,220.2 340.7,221.3 341.3,222.5 341.8,223.7 342.3,224.9 342.7,226.2 343.0,227.4 343.4,228.7 343.6,230.0 343.9,231.2 344.1,232.5 344.8,233.7 345.4,234.8 346.0,235.9 346.6,237.1 347.1,238.3 347.6,239.5 348.0,240.8 348.4,242.0 348.7,243.3 349.0,244.5 349.2,245.8 349.3,247.1 349.4,248.4 349.4,249.7 349.3,251.0 349.3,252.3 349.1,253.6 348.9,254.9 348.7,256.2" fill="#66565b" stroke="#2b2633" stroke-width="1.4"/>
<path d="M300 194 H346 Q352.5 194 352.5 201 V316 Q352.5 322 346 322 H300 Z" fill="#66565b"/>
<path d="M320 194 H346 Q352.5 194 352.5 201 V316 Q352.5 322 346 322 H320" fill="none" stroke="#2b2633" stroke-width="1"/>
<circle cx="271" cy="257" r="62" fill="#4b3e42" stroke="#3a2f34" stroke-width="1.5"/>
<path d="M290 201 H328 V315 H290 Z" fill="#4b3e42"/>
<circle cx="257" cy="305" r="6.5" fill="none" stroke="#3f3338" stroke-width="1.4"/>
<circle cx="312" cy="296" r="6.5" fill="none" stroke="#3f3338" stroke-width="1.4"/>
<circle cx="312" cy="220" r="6.5" fill="none" stroke="#3f3338" stroke-width="1.2"/>
<rect x="342" y="245.4" width="53.2" height="25.2" rx="1" fill="#d2d2d4"/>
<rect x="342" y="245.4" width="53.2" height="3" fill="#e6e6e8"/>
<rect x="345" y="249.7" width="30" height="17.5" rx="7" fill="#76603a"/>
<rect x="327.8" y="200.3" width="13" height="116.2" fill="#1c1517"/>
<rect x="330.5" y="202" width="2.6" height="113" fill="#e6d394"/>
<path d="M335 222 L336 238 L343 252 V264 L336 276 L335 300" fill="none" stroke="#c5a552" stroke-width="1.4"/>
<polygon points="238.8,203.6 247.5,212.8 232,230.7 220.3,222" fill="#17151a"/>
<polygon points="223.7,211.8 233,206.5 237.3,212 229,220.5" fill="#66565b"/>
<polygon points="221.4,289 228.4,282.9 247.6,303 238.8,310.8" fill="#17151a"/>
<polygon points="225,292.5 230,289 237,300 231,305" fill="#66565b"/>
<rect x="256" y="228" width="26" height="9" fill="#231b1c"/>
<path d="M176 248.3 H215 L226 240 V277 L215 268.3 H176 Z" fill="#a28d52"/>
<rect x="223.3" y="235.8" width="83.4" height="43.4" rx="3" fill="#8f7a40"/>
<path d="M258.3 237 V233 Q258.3 230.8 261 230.8 H264 Q269 236 274 230.8 H277.5 Q280 230.8 280 233 V237 Z" fill="#8f7a40"/>
<rect x="258.3" y="278" width="21.7" height="8.7" rx="2" fill="#8f7a40"/>
<circle cx="269" cy="284" r="3.5" fill="#2a2020"/>
<rect x="224.8" y="237.3" width="80.4" height="40.4" rx="2.5" fill="none" stroke="#c9ad5c" stroke-width="1"/>
<rect x="230.8" y="243.3" width="68.4" height="29.2" rx="2" fill="#3e322f" stroke="#d7bd70" stroke-width="1"/>
<path d="M226 248.3 H283 A4 4 0 0 1 283 256 H250 V261 H283 A4 4 0 0 1 283 268.3 H226 Z" fill="#f0e6c6"/>
<circle cx="236.0" cy="367.5" r="7.5" fill="#5d6470"/>
<circle cx="236.0" cy="367.5" r="6.7" fill="#dcdcdf"/>
<circle cx="236.0" cy="367.5" r="4.8" fill="#2a2220"/>
<circle cx="236.0" cy="367.8" r="3" fill="#3d322e"/>
<circle cx="236.0" cy="393" r="7.5" fill="#5d6470"/>
<circle cx="236.0" cy="393" r="6.7" fill="#dcdcdf"/>
<circle cx="236.0" cy="393" r="4.8" fill="#2a2220"/>
<circle cx="236.0" cy="393.3" r="3" fill="#3d322e"/>
<text x="237.0" y="354.5" font-size="10.2" font-weight="bold" text-anchor="middle" fill="#dfeaf6" stroke="#dfeaf6" stroke-width="0.4">GND</text>
<text x="237.0" y="415" font-size="10.2" font-weight="bold" text-anchor="middle" fill="#dfeaf6" stroke="#dfeaf6" stroke-width="0.4">D21</text>
<circle cx="261.9" cy="367.5" r="7.5" fill="#5d6470"/>
<circle cx="261.9" cy="367.5" r="6.7" fill="#dcdcdf"/>
<circle cx="261.9" cy="367.5" r="4.8" fill="#2a2220"/>
<circle cx="261.9" cy="367.8" r="3" fill="#3d322e"/>
<circle cx="261.9" cy="393" r="7.5" fill="#5d6470"/>
<circle cx="261.9" cy="393" r="6.7" fill="#dcdcdf"/>
<circle cx="261.9" cy="393" r="4.8" fill="#2a2220"/>
<circle cx="261.9" cy="393.3" r="3" fill="#3d322e"/>
<text x="262.9" y="354.5" font-size="10.2" font-weight="bold" text-anchor="middle" fill="#dfeaf6" stroke="#dfeaf6" stroke-width="0.4">D26</text>
<text x="262.9" y="415" font-size="10.2" font-weight="bold" text-anchor="middle" fill="#dfeaf6" stroke="#dfeaf6" stroke-width="0.4">D20</text>
<circle cx="287.8" cy="367.5" r="7.5" fill="#5d6470"/>
<circle cx="287.8" cy="367.5" r="6.7" fill="#dcdcdf"/>
<circle cx="287.8" cy="367.5" r="4.8" fill="#2a2220"/>
<circle cx="287.8" cy="367.8" r="3" fill="#3d322e"/>
<circle cx="287.8" cy="393" r="7.5" fill="#5d6470"/>
<circle cx="287.8" cy="393" r="6.7" fill="#dcdcdf"/>
<circle cx="287.8" cy="393" r="4.8" fill="#2a2220"/>
<circle cx="287.8" cy="393.3" r="3" fill="#3d322e"/>
<text x="288.8" y="354.5" font-size="10.2" font-weight="bold" text-anchor="middle" fill="#dfeaf6" stroke="#dfeaf6" stroke-width="0.4">D19</text>
<text x="288.8" y="415" font-size="10.2" font-weight="bold" text-anchor="middle" fill="#dfeaf6" stroke="#dfeaf6" stroke-width="0.4">D16</text>
<circle cx="313.7" cy="367.5" r="7.5" fill="#5d6470"/>
<circle cx="313.7" cy="367.5" r="6.7" fill="#dcdcdf"/>
<circle cx="313.7" cy="367.5" r="4.8" fill="#2a2220"/>
<circle cx="313.7" cy="367.8" r="3" fill="#3d322e"/>
<circle cx="313.7" cy="393" r="7.5" fill="#5d6470"/>
<circle cx="313.7" cy="393" r="6.7" fill="#dcdcdf"/>
<circle cx="313.7" cy="393" r="4.8" fill="#2a2220"/>
<circle cx="313.7" cy="393.3" r="3" fill="#3d322e"/>
<text x="314.7" y="354.5" font-size="10.2" font-weight="bold" text-anchor="middle" fill="#dfeaf6" stroke="#dfeaf6" stroke-width="0.4">D13</text>
<text x="314.7" y="415" font-size="10.2" font-weight="bold" text-anchor="middle" fill="#dfeaf6" stroke="#dfeaf6" stroke-width="0.4">GND</text>
<circle cx="339.6" cy="367.5" r="7.5" fill="#5d6470"/>
<circle cx="339.6" cy="367.5" r="6.7" fill="#dcdcdf"/>
<circle cx="339.6" cy="367.5" r="4.8" fill="#2a2220"/>
<circle cx="339.6" cy="367.8" r="3" fill="#3d322e"/>
<circle cx="339.6" cy="393" r="7.5" fill="#5d6470"/>
<circle cx="339.6" cy="393" r="6.7" fill="#dcdcdf"/>
<circle cx="339.6" cy="393" r="4.8" fill="#2a2220"/>
<circle cx="339.6" cy="393.3" r="3" fill="#3d322e"/>
<text x="340.6" y="354.5" font-size="10.2" font-weight="bold" text-anchor="middle" fill="#dfeaf6" stroke="#dfeaf6" stroke-width="0.4">D6</text>
<text x="340.6" y="415" font-size="10.2" font-weight="bold" text-anchor="middle" fill="#dfeaf6" stroke="#dfeaf6" stroke-width="0.4">D12</text>
<circle cx="365.5" cy="367.5" r="7.5" fill="#5d6470"/>
<circle cx="365.5" cy="367.5" r="6.7" fill="#dcdcdf"/>
<circle cx="365.5" cy="367.5" r="4.8" fill="#2a2220"/>
<circle cx="365.5" cy="367.8" r="3" fill="#3d322e"/>
<circle cx="365.5" cy="393" r="7.5" fill="#5d6470"/>
<circle cx="365.5" cy="393" r="6.7" fill="#dcdcdf"/>
<circle cx="365.5" cy="393" r="4.8" fill="#2a2220"/>
<circle cx="365.5" cy="393.3" r="3" fill="#3d322e"/>
<text x="366.5" y="354.5" font-size="10.2" font-weight="bold" text-anchor="middle" fill="#dfeaf6" stroke="#dfeaf6" stroke-width="0.4">D5</text>
<text x="366.5" y="415" font-size="10.2" font-weight="bold" text-anchor="middle" fill="#dfeaf6" stroke="#dfeaf6" stroke-width="0.4">GND</text>
<circle cx="391.4" cy="367.5" r="7.5" fill="#5d6470"/>
<circle cx="391.4" cy="367.5" r="6.7" fill="#dcdcdf"/>
<circle cx="391.4" cy="367.5" r="4.8" fill="#2a2220"/>
<circle cx="391.4" cy="367.8" r="3" fill="#3d322e"/>
<circle cx="391.4" cy="393" r="7.5" fill="#5d6470"/>
<circle cx="391.4" cy="393" r="6.7" fill="#dcdcdf"/>
<circle cx="391.4" cy="393" r="4.8" fill="#2a2220"/>
<circle cx="391.4" cy="393.3" r="3" fill="#3d322e"/>
<text x="392.4" y="354.5" font-size="10.2" font-weight="bold" text-anchor="middle" fill="#dfeaf6" stroke="#dfeaf6" stroke-width="0.4">SDA0</text>
<text x="392.4" y="415" font-size="10.2" font-weight="bold" text-anchor="middle" fill="#dfeaf6" stroke="#dfeaf6" stroke-width="0.4">SCL0</text>
<circle cx="417.3" cy="367.5" r="7.5" fill="#5d6470"/>
<circle cx="417.3" cy="367.5" r="6.7" fill="#dcdcdf"/>
<circle cx="417.3" cy="367.5" r="4.8" fill="#2a2220"/>
<circle cx="417.3" cy="367.8" r="3" fill="#3d322e"/>
<circle cx="417.3" cy="393" r="7.5" fill="#5d6470"/>
<circle cx="417.3" cy="393" r="6.7" fill="#dcdcdf"/>
<circle cx="417.3" cy="393" r="4.8" fill="#2a2220"/>
<circle cx="417.3" cy="393.3" r="3" fill="#3d322e"/>
<text x="418.3" y="354.5" font-size="10.2" font-weight="bold" text-anchor="middle" fill="#dfeaf6" stroke="#dfeaf6" stroke-width="0.4">GND</text>
<text x="418.3" y="415" font-size="10.2" font-weight="bold" text-anchor="middle" fill="#dfeaf6" stroke="#dfeaf6" stroke-width="0.4">CE1</text>
<circle cx="443.2" cy="367.5" r="7.5" fill="#5d6470"/>
<circle cx="443.2" cy="367.5" r="6.7" fill="#dcdcdf"/>
<circle cx="443.2" cy="367.5" r="4.8" fill="#2a2220"/>
<circle cx="443.2" cy="367.8" r="3" fill="#3d322e"/>
<circle cx="443.2" cy="393" r="7.5" fill="#5d6470"/>
<circle cx="443.2" cy="393" r="6.7" fill="#dcdcdf"/>
<circle cx="443.2" cy="393" r="4.8" fill="#2a2220"/>
<circle cx="443.2" cy="393.3" r="3" fill="#3d322e"/>
<text x="444.2" y="354.5" font-size="10.2" font-weight="bold" text-anchor="middle" fill="#dfeaf6" stroke="#dfeaf6" stroke-width="0.4">SCK</text>
<text x="444.2" y="415" font-size="10.2" font-weight="bold" text-anchor="middle" fill="#dfeaf6" stroke="#dfeaf6" stroke-width="0.4">CE0</text>
<circle cx="469.1" cy="367.5" r="7.5" fill="#5d6470"/>
<circle cx="469.1" cy="367.5" r="6.7" fill="#dcdcdf"/>
<circle cx="469.1" cy="367.5" r="4.8" fill="#2a2220"/>
<circle cx="469.1" cy="367.8" r="3" fill="#3d322e"/>
<circle cx="469.1" cy="393" r="7.5" fill="#5d6470"/>
<circle cx="469.1" cy="393" r="6.7" fill="#dcdcdf"/>
<circle cx="469.1" cy="393" r="4.8" fill="#2a2220"/>
<circle cx="469.1" cy="393.3" r="3" fill="#3d322e"/>
<text x="470.1" y="354.5" font-size="10.2" font-weight="bold" text-anchor="middle" fill="#dfeaf6" stroke="#dfeaf6" stroke-width="0.4">MISO</text>
<text x="470.1" y="415" font-size="10.2" font-weight="bold" text-anchor="middle" fill="#dfeaf6" stroke="#dfeaf6" stroke-width="0.4">D25</text>
<circle cx="495.0" cy="367.5" r="7.5" fill="#5d6470"/>
<circle cx="495.0" cy="367.5" r="6.7" fill="#dcdcdf"/>
<circle cx="495.0" cy="367.5" r="4.8" fill="#2a2220"/>
<circle cx="495.0" cy="367.8" r="3" fill="#3d322e"/>
<circle cx="495.0" cy="393" r="7.5" fill="#5d6470"/>
<circle cx="495.0" cy="393" r="6.7" fill="#dcdcdf"/>
<circle cx="495.0" cy="393" r="4.8" fill="#2a2220"/>
<circle cx="495.0" cy="393.3" r="3" fill="#3d322e"/>
<text x="496.0" y="354.5" font-size="10.2" font-weight="bold" text-anchor="middle" fill="#dfeaf6" stroke="#dfeaf6" stroke-width="0.4">MOSI</text>
<text x="496.0" y="415" font-size="10.2" font-weight="bold" text-anchor="middle" fill="#dfeaf6" stroke="#dfeaf6" stroke-width="0.4">GND</text>
<circle cx="520.9" cy="367.5" r="7.5" fill="#5d6470"/>
<circle cx="520.9" cy="367.5" r="6.7" fill="#dcdcdf"/>
<circle cx="520.9" cy="367.5" r="4.8" fill="#2a2220"/>
<circle cx="520.9" cy="367.8" r="3" fill="#3d322e"/>
<circle cx="520.9" cy="393" r="7.5" fill="#5d6470"/>
<circle cx="520.9" cy="393" r="6.7" fill="#dcdcdf"/>
<circle cx="520.9" cy="393" r="4.8" fill="#2a2220"/>
<circle cx="520.9" cy="393.3" r="3" fill="#3d322e"/>
<text x="521.9" y="354.5" font-size="10.2" font-weight="bold" text-anchor="middle" fill="#dfeaf6" stroke="#dfeaf6" stroke-width="0.4">3V3</text>
<text x="521.9" y="415" font-size="10.2" font-weight="bold" text-anchor="middle" fill="#dfeaf6" stroke="#dfeaf6" stroke-width="0.4">D24</text>
<circle cx="546.8" cy="367.5" r="7.5" fill="#5d6470"/>
<circle cx="546.8" cy="367.5" r="6.7" fill="#dcdcdf"/>
<circle cx="546.8" cy="367.5" r="4.8" fill="#2a2220"/>
<circle cx="546.8" cy="367.8" r="3" fill="#3d322e"/>
<circle cx="546.8" cy="393" r="7.5" fill="#5d6470"/>
<circle cx="546.8" cy="393" r="6.7" fill="#dcdcdf"/>
<circle cx="546.8" cy="393" r="4.8" fill="#2a2220"/>
<circle cx="546.8" cy="393.3" r="3" fill="#3d322e"/>
<text x="547.8" y="354.5" font-size="10.2" font-weight="bold" text-anchor="middle" fill="#dfeaf6" stroke="#dfeaf6" stroke-width="0.4">D22</text>
<text x="547.8" y="415" font-size="10.2" font-weight="bold" text-anchor="middle" fill="#dfeaf6" stroke="#dfeaf6" stroke-width="0.4">D23</text>
<circle cx="572.7" cy="367.5" r="7.5" fill="#5d6470"/>
<circle cx="572.7" cy="367.5" r="6.7" fill="#dcdcdf"/>
<circle cx="572.7" cy="367.5" r="4.8" fill="#2a2220"/>
<circle cx="572.7" cy="367.8" r="3" fill="#3d322e"/>
<circle cx="572.7" cy="393" r="7.5" fill="#5d6470"/>
<circle cx="572.7" cy="393" r="6.7" fill="#dcdcdf"/>
<circle cx="572.7" cy="393" r="4.8" fill="#2a2220"/>
<circle cx="572.7" cy="393.3" r="3" fill="#3d322e"/>
<text x="573.7" y="354.5" font-size="10.2" font-weight="bold" text-anchor="middle" fill="#dfeaf6" stroke="#dfeaf6" stroke-width="0.4">D27</text>
<text x="573.7" y="415" font-size="10.2" font-weight="bold" text-anchor="middle" fill="#dfeaf6" stroke="#dfeaf6" stroke-width="0.4">GND</text>
<circle cx="598.6" cy="367.5" r="7.5" fill="#5d6470"/>
<circle cx="598.6" cy="367.5" r="6.7" fill="#dcdcdf"/>
<circle cx="598.6" cy="367.5" r="4.8" fill="#2a2220"/>
<circle cx="598.6" cy="367.8" r="3" fill="#3d322e"/>
<circle cx="598.6" cy="393" r="7.5" fill="#5d6470"/>
<circle cx="598.6" cy="393" r="6.7" fill="#dcdcdf"/>
<circle cx="598.6" cy="393" r="4.8" fill="#2a2220"/>
<circle cx="598.6" cy="393.3" r="3" fill="#3d322e"/>
<text x="599.6" y="354.5" font-size="10.2" font-weight="bold" text-anchor="middle" fill="#dfeaf6" stroke="#dfeaf6" stroke-width="0.4">D17</text>
<text x="599.6" y="415" font-size="10.2" font-weight="bold" text-anchor="middle" fill="#dfeaf6" stroke="#dfeaf6" stroke-width="0.4">D18</text>
<circle cx="624.5" cy="367.5" r="7.5" fill="#5d6470"/>
<circle cx="624.5" cy="367.5" r="6.7" fill="#dcdcdf"/>
<circle cx="624.5" cy="367.5" r="4.8" fill="#2a2220"/>
<circle cx="624.5" cy="367.8" r="3" fill="#3d322e"/>
<circle cx="624.5" cy="393" r="7.5" fill="#5d6470"/>
<circle cx="624.5" cy="393" r="6.7" fill="#dcdcdf"/>
<circle cx="624.5" cy="393" r="4.8" fill="#2a2220"/>
<circle cx="624.5" cy="393.3" r="3" fill="#3d322e"/>
<text x="625.5" y="354.5" font-size="10.2" font-weight="bold" text-anchor="middle" fill="#dfeaf6" stroke="#dfeaf6" stroke-width="0.4">GND</text>
<text x="625.5" y="415" font-size="10.2" font-weight="bold" text-anchor="middle" fill="#dfeaf6" stroke="#dfeaf6" stroke-width="0.4">RX</text>
<circle cx="650.4" cy="367.5" r="7.5" fill="#5d6470"/>
<circle cx="650.4" cy="367.5" r="6.7" fill="#dcdcdf"/>
<circle cx="650.4" cy="367.5" r="4.8" fill="#2a2220"/>
<circle cx="650.4" cy="367.8" r="3" fill="#3d322e"/>
<circle cx="650.4" cy="393" r="7.5" fill="#5d6470"/>
<circle cx="650.4" cy="393" r="6.7" fill="#dcdcdf"/>
<circle cx="650.4" cy="393" r="4.8" fill="#2a2220"/>
<circle cx="650.4" cy="393.3" r="3" fill="#3d322e"/>
<text x="651.4" y="354.5" font-size="10.2" font-weight="bold" text-anchor="middle" fill="#dfeaf6" stroke="#dfeaf6" stroke-width="0.4">D4</text>
<text x="651.4" y="415" font-size="10.2" font-weight="bold" text-anchor="middle" fill="#dfeaf6" stroke="#dfeaf6" stroke-width="0.4">TX</text>
<circle cx="676.3" cy="367.5" r="7.5" fill="#5d6470"/>
<circle cx="676.3" cy="367.5" r="6.7" fill="#dcdcdf"/>
<circle cx="676.3" cy="367.5" r="4.8" fill="#2a2220"/>
<circle cx="676.3" cy="367.8" r="3" fill="#3d322e"/>
<circle cx="676.3" cy="393" r="7.5" fill="#5d6470"/>
<circle cx="676.3" cy="393" r="6.7" fill="#dcdcdf"/>
<circle cx="676.3" cy="393" r="4.8" fill="#2a2220"/>
<circle cx="676.3" cy="393.3" r="3" fill="#3d322e"/>
<text x="677.3" y="354.5" font-size="10.2" font-weight="bold" text-anchor="middle" fill="#dfeaf6" stroke="#dfeaf6" stroke-width="0.4">SCL</text>
<text x="677.3" y="415" font-size="10.2" font-weight="bold" text-anchor="middle" fill="#dfeaf6" stroke="#dfeaf6" stroke-width="0.4">GND</text>
<circle cx="702.2" cy="367.5" r="7.5" fill="#5d6470"/>
<circle cx="702.2" cy="367.5" r="6.7" fill="#dcdcdf"/>
<circle cx="702.2" cy="367.5" r="4.8" fill="#2a2220"/>
<circle cx="702.2" cy="367.8" r="3" fill="#3d322e"/>
<circle cx="702.2" cy="393" r="7.5" fill="#5d6470"/>
<circle cx="702.2" cy="393" r="6.7" fill="#dcdcdf"/>
<circle cx="702.2" cy="393" r="4.8" fill="#2a2220"/>
<circle cx="702.2" cy="393.3" r="3" fill="#3d322e"/>
<text x="703.2" y="354.5" font-size="10.2" font-weight="bold" text-anchor="middle" fill="#dfeaf6" stroke="#dfeaf6" stroke-width="0.4">SDA</text>
<text x="703.2" y="415" font-size="10.2" font-weight="bold" text-anchor="middle" fill="#dfeaf6" stroke="#dfeaf6" stroke-width="0.4">5V</text>
<circle cx="728.1" cy="367.5" r="7.5" fill="#5d6470"/>
<circle cx="728.1" cy="367.5" r="6.7" fill="#dcdcdf"/>
<circle cx="728.1" cy="367.5" r="4.8" fill="#2a2220"/>
<circle cx="728.1" cy="367.8" r="3" fill="#3d322e"/>
<circle cx="728.1" cy="393" r="7.5" fill="#5d6470"/>
<circle cx="728.1" cy="393" r="6.7" fill="#dcdcdf"/>
<circle cx="728.1" cy="393" r="4.8" fill="#2a2220"/>
<circle cx="728.1" cy="393.3" r="3" fill="#3d322e"/>
<text x="729.1" y="354.5" font-size="10.2" font-weight="bold" text-anchor="middle" fill="#dfeaf6" stroke="#dfeaf6" stroke-width="0.4">3V3</text>
<text x="729.1" y="415" font-size="10.2" font-weight="bold" text-anchor="middle" fill="#dfeaf6" stroke="#dfeaf6" stroke-width="0.4">5V</text>
<circle cx="249.8" cy="380" r="9.6" fill="#0e1626"/>
<circle cx="249.8" cy="380" r="6.8" fill="#050507"/>
<circle cx="248.8" cy="378" r="2" fill="#2a2e36"/>
<circle cx="715" cy="380" r="9.6" fill="#0e1626"/>
<circle cx="715" cy="380" r="6.8" fill="#050507"/>
<circle cx="714" cy="378" r="2" fill="#2a2e36"/>
<rect x="781.5" y="187.5" width="27" height="156.5" fill="none" stroke="#d3e2f2" stroke-width="1.9"/>
<line x1="781.5" y1="214" x2="808.5" y2="214" stroke="#d3e2f2" stroke-width="1.9"/>
<circle cx="794.5" cy="201.0" r="9" fill="#a9a49c"/>
<circle cx="794.5" cy="201.0" r="8" fill="#d3d0ca"/>
<circle cx="794.5" cy="201.0" r="6.2" fill="#f4f2ed"/>
<text x="0" y="0" transform="translate(779.5 205.6) scale(0.92 1)" font-size="12.6" font-weight="bold" text-anchor="end" fill="#dfeaf6" stroke="#dfeaf6" stroke-width="0.25">IN_5V</text>
<circle cx="794.5" cy="226.8" r="9" fill="#a9a49c"/>
<circle cx="794.5" cy="226.8" r="8" fill="#d3d0ca"/>
<circle cx="794.5" cy="226.8" r="6.2" fill="#f4f2ed"/>
<text x="0" y="0" transform="translate(779.5 231.4) scale(0.92 1)" font-size="12.6" font-weight="bold" text-anchor="end" fill="#dfeaf6" stroke="#dfeaf6" stroke-width="0.25">3.3V</text>
<circle cx="794.5" cy="252.6" r="9" fill="#a9a49c"/>
<circle cx="794.5" cy="252.6" r="8" fill="#d3d0ca"/>
<circle cx="794.5" cy="252.6" r="6.2" fill="#f4f2ed"/>
<text x="0" y="0" transform="translate(779.5 257.2) scale(0.92 1)" font-size="12.6" font-weight="bold" text-anchor="end" fill="#dfeaf6" stroke="#dfeaf6" stroke-width="0.25">GND</text>
<circle cx="794.5" cy="278.4" r="9" fill="#a9a49c"/>
<circle cx="794.5" cy="278.4" r="8" fill="#d3d0ca"/>
<circle cx="794.5" cy="278.4" r="6.2" fill="#f4f2ed"/>
<text x="0" y="0" transform="translate(779.5 283.0) scale(0.92 1)" font-size="12.6" font-weight="bold" text-anchor="end" fill="#dfeaf6" stroke="#dfeaf6" stroke-width="0.25">SCL</text>
<circle cx="794.5" cy="304.2" r="9" fill="#a9a49c"/>
<circle cx="794.5" cy="304.2" r="8" fill="#d3d0ca"/>
<circle cx="794.5" cy="304.2" r="6.2" fill="#f4f2ed"/>
<text x="0" y="0" transform="translate(779.5 308.8) scale(0.92 1)" font-size="12.6" font-weight="bold" text-anchor="end" fill="#dfeaf6" stroke="#dfeaf6" stroke-width="0.25">SDA</text>
<circle cx="794.5" cy="330.0" r="9" fill="#a9a49c"/>
<circle cx="794.5" cy="330.0" r="8" fill="#d3d0ca"/>
<circle cx="794.5" cy="330.0" r="6.2" fill="#f4f2ed"/>
<text x="0" y="0" transform="translate(779.5 334.6) scale(0.92 1)" font-size="12.6" font-weight="bold" text-anchor="end" fill="#dfeaf6" stroke="#dfeaf6" stroke-width="0.25">WDI</text>
<rect x="527.5" y="280" width="159" height="58" fill="none" stroke="#d3e2f2" stroke-width="1.9"/>
<text x="607.2" y="296.3" font-size="14" font-weight="bold" text-anchor="middle" fill="#dfeaf6" stroke="#dfeaf6" stroke-width="0.25">WDI Select</text>
<rect x="532.2" y="301" width="28.5" height="15" rx="1.5" fill="none" stroke="#d3e2f2" stroke-width="1.7"/>
<rect x="535.2" y="304" width="22.5" height="9" fill="#1d2633"/>
<rect x="536.2" y="305" width="8" height="7" fill="#d6d6d0"/>
<rect x="548.7" y="305" width="8" height="7" fill="#d6d6d0"/>
<text x="546.7" y="332" font-size="11.8" font-weight="bold" text-anchor="middle" fill="#dfeaf6" stroke="#dfeaf6" stroke-width="0.25">D23</text>
<rect x="572.5" y="301" width="28.5" height="15" rx="1.5" fill="none" stroke="#d3e2f2" stroke-width="1.7"/>
<rect x="575.5" y="304" width="22.5" height="9" fill="#1d2633"/>
<rect x="576.5" y="305" width="8" height="7" fill="#d6d6d0"/>
<rect x="589.0" y="305" width="8" height="7" fill="#d6d6d0"/>
<text x="587.0" y="332" font-size="11.8" font-weight="bold" text-anchor="middle" fill="#dfeaf6" stroke="#dfeaf6" stroke-width="0.25">D18</text>
<rect x="612.4" y="301" width="28.5" height="15" rx="1.5" fill="none" stroke="#d3e2f2" stroke-width="1.7"/>
<rect x="615.4" y="304" width="22.5" height="9" fill="#1d2633"/>
<rect x="616.4" y="305" width="8" height="7" fill="#d6d6d0"/>
<rect x="628.9" y="305" width="8" height="7" fill="#d6d6d0"/>
<text x="626.9" y="332" font-size="11.8" font-weight="bold" text-anchor="middle" fill="#dfeaf6" stroke="#dfeaf6" stroke-width="0.25">D17</text>
<rect x="652.2" y="301" width="28.5" height="15" rx="1.5" fill="none" stroke="#d3e2f2" stroke-width="1.7"/>
<rect x="655.2" y="304" width="22.5" height="9" fill="#2b2b2e"/>
<rect x="655.7" y="304.5" width="5" height="8" fill="#c9c9c9"/>
<rect x="671.7" y="304.5" width="5" height="8" fill="#c9c9c9"/>
<rect x="664.2" y="306" width="4" height="4" fill="none" stroke="#aaa" stroke-width="0.8"/>
<text x="666.7" y="332" font-size="11.8" font-weight="bold" text-anchor="middle" fill="#dfeaf6" stroke="#dfeaf6" stroke-width="0.25">D4</text>
<line x1="254.8" y1="95" x2="254.8" y2="141" stroke="#111" stroke-width="3.9"/>
<line x1="254.8" y1="95" x2="254.8" y2="141" stroke="#fff" stroke-width="2.1"/>
<circle cx="254.6" cy="141.3" r="4.2" fill="#fff" stroke="#111" stroke-width="1.3"/>
<line x1="314.2" y1="95" x2="314.2" y2="139.4" stroke="#111" stroke-width="3.9"/>
<line x1="314.2" y1="95" x2="314.2" y2="139.4" stroke="#fff" stroke-width="2.1"/>
<circle cx="314.2" cy="139.6" r="4.2" fill="#fff" stroke="#111" stroke-width="1.3"/>
<line x1="596" y1="90" x2="596" y2="191.6" stroke="#111" stroke-width="3.9"/>
<line x1="596" y1="90" x2="596" y2="191.6" stroke="#fff" stroke-width="2.1"/>
<circle cx="595.7" cy="191.6" r="4.2" fill="#fff" stroke="#111" stroke-width="1.3"/>
<line x1="698" y1="88" x2="698" y2="132" stroke="#111" stroke-width="3.9"/>
<line x1="698" y1="88" x2="698" y2="132" stroke="#fff" stroke-width="2.1"/>
<circle cx="698.5" cy="132.2" r="4.2" fill="#fff" stroke="#111" stroke-width="1.3"/>
<line x1="128" y1="259" x2="232" y2="259" stroke="#111" stroke-width="3.9"/>
<line x1="128" y1="259" x2="232" y2="259" stroke="#fff" stroke-width="2.1"/>
<circle cx="232.8" cy="258.8" r="4.6" fill="#fff" stroke="#111" stroke-width="1.3"/>
<line x1="442" y1="318.8" x2="442" y2="449" stroke="#111" stroke-width="3.9"/>
<line x1="442" y1="318.8" x2="442" y2="449" stroke="#fff" stroke-width="2.1"/>
<circle cx="442.5" cy="318.8" r="4.2" fill="#fff" stroke="#111" stroke-width="1.3"/>
<line x1="496" y1="384" x2="496" y2="449" stroke="#111" stroke-width="3.9"/>
<line x1="496" y1="384" x2="496" y2="449" stroke="#fff" stroke-width="2.1"/>
<circle cx="495.8" cy="384" r="4.2" fill="#fff" stroke="#111" stroke-width="1.3"/>
<line x1="608" y1="319.7" x2="608" y2="449" stroke="#111" stroke-width="3.9"/>
<line x1="608" y1="319.7" x2="608" y2="449" stroke="#fff" stroke-width="2.1"/>
<circle cx="608.5" cy="319.7" r="4.2" fill="#fff" stroke="#111" stroke-width="1.3"/>
<line x1="795" y1="266" x2="836" y2="266" stroke="#111" stroke-width="3.9"/>
<line x1="795" y1="266" x2="836" y2="266" stroke="#fff" stroke-width="2.1"/>
<circle cx="795" cy="266" r="4.2" fill="#fff" stroke="#111" stroke-width="1.3"/>
<circle cx="255" cy="74" r="13.2" fill="#fff" stroke="#111" stroke-width="1.3"/>
<text x="255" y="82.9" font-size="25" text-anchor="middle" fill="#111">5</text>
<circle cx="314" cy="74" r="13.2" fill="#fff" stroke="#111" stroke-width="1.3"/>
<text x="314" y="82.9" font-size="25" text-anchor="middle" fill="#111">4</text>
<circle cx="595" cy="70" r="13.2" fill="#fff" stroke="#111" stroke-width="1.3"/>
<text x="595" y="78.9" font-size="25" text-anchor="middle" fill="#111">2</text>
<circle cx="699" cy="68.8" r="13.2" fill="#fff" stroke="#111" stroke-width="1.3"/>
<path d="M695.7 64.39999999999999 L700.9 61.0 V78.0" fill="none" stroke="#111" stroke-width="2.1"/>
<circle cx="105" cy="259.5" r="13.2" fill="#fff" stroke="#111" stroke-width="1.3"/>
<text x="105" y="268.4" font-size="25" text-anchor="middle" fill="#111">3</text>
<circle cx="857" cy="266" r="13.2" fill="#fff" stroke="#111" stroke-width="1.3"/>
<text x="857" y="274.9" font-size="25" text-anchor="middle" fill="#111">9</text>
<circle cx="441" cy="469.5" r="13.2" fill="#fff" stroke="#111" stroke-width="1.3"/>
<text x="441" y="478.4" font-size="25" text-anchor="middle" fill="#111">7</text>
<circle cx="495" cy="469.5" r="13.2" fill="#fff" stroke="#111" stroke-width="1.3"/>
<text x="495" y="478.4" font-size="25" text-anchor="middle" fill="#111">6</text>
<circle cx="608" cy="469.5" r="13.2" fill="#fff" stroke="#111" stroke-width="1.3"/>
<text x="608" y="478.4" font-size="25" text-anchor="middle" fill="#111">8</text>
</svg>
</body></html>
